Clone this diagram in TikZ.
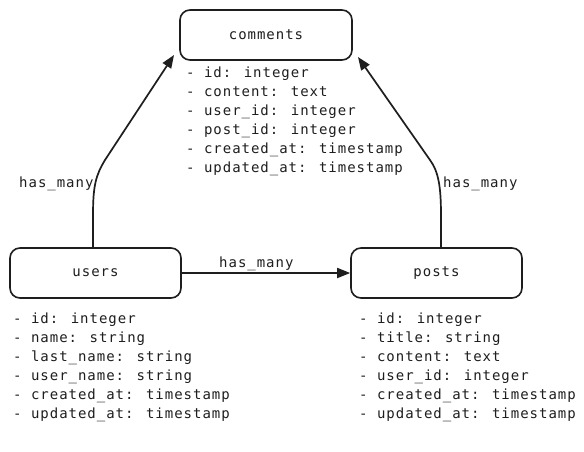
\documentclass[tikz,border=0pt]{standalone}
\usepackage{fontspec}
\newfontfamily\diagmono[LetterSpace=7]{DejaVu Sans Mono}
\usetikzlibrary{arrows.meta}
\definecolor{ink}{HTML}{1E1E1E}
\tikzset{
  entity/.style={draw=ink, line width=1.6pt, rounded corners=10pt, minimum height=50pt, inner sep=0pt, font=\diagmono\fontsize{14}{16}\selectfont, text=ink},
  attr/.style={anchor=base west, inner sep=0pt, font=\diagmono\fontsize{14}{16}\selectfont, text=ink},
  rel/.style={draw=ink, line width=1.7pt, -{Triangle[length=13pt,width=10pt]}},
  rellabel/.style={anchor=base west, inner sep=0pt, font=\diagmono\fontsize{14}{16}\selectfont, text=ink}
}
\begin{document}
\begin{tikzpicture}[x=1pt,y=-1pt]
\useasboundingbox (0,0) rectangle (584,451);
\fill[white] (0,0) rectangle (584,451);
\node[entity, minimum width=172pt] (comments) at (266,35) {comments};
\node[entity, minimum width=171pt] (users) at (95.5,273) {users};
\node[entity, minimum width=171pt] (posts) at (436.5,273) {posts};
% attributes
\foreach \t [count=\i] in {{- id: integer},{- content: text},{- user\_id: integer},{- post\_id: integer},{- created\_at: timestamp},{- updated\_at: timestamp}}
  \node[attr] (c\i) at (186,{77+19*(\i-1)}) {\t};
\foreach \t [count=\i] in {{- id: integer},{- name: string},{- last\_name: string},{- user\_name: string},{- created\_at: timestamp},{- updated\_at: timestamp}}
  \node[attr] (u\i) at (13,{323+19*(\i-1)}) {\t};
\foreach \t [count=\i] in {{- id: integer},{- title: string},{- content: text},{- user\_id: integer},{- created\_at: timestamp},{- updated\_at: timestamp}}
  \node[attr] (p\i) at (359,{323+19*(\i-1)}) {\t};
% connectors
\coordinate (ucA) at (93,215);
\coordinate (ucB) at (105,160);
\coordinate (ucEnd) at (174,55);
\coordinate (pcA) at (441,215);
\coordinate (pcB) at (430,160);
\coordinate (pcEnd) at (358,57);
\draw[rel] (users.north -| ucA) -- (ucA) .. controls (93,185) and (96,175) .. (ucB) -- (ucEnd);
\draw[rel] (posts.north -| pcA) -- (pcA) .. controls (441,185) and (438,171) .. (pcB) -- (pcEnd);
\draw[rel] (users.east) -- (posts.west);
\node[rellabel] (l1) at (19,187) {has\_many};
\node[rellabel] (l2) at (443,187) {has\_many};
\node[rellabel] (l3) at (219,267) {has\_many};
\end{tikzpicture}
\end{document}
